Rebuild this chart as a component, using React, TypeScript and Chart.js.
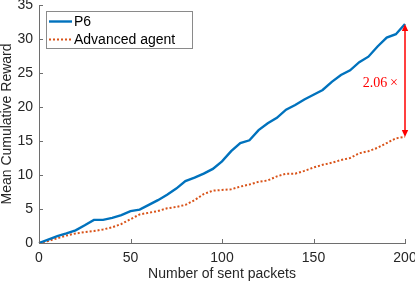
import { useEffect, useRef } from "react";
import { Chart, registerables } from "chart.js";

Chart.register(...registerables);

const packets = [0, 5, 10, 15, 20, 25, 30, 35, 40, 45, 50, 55, 60, 65, 70, 75, 80, 85, 90, 95, 100, 105, 110, 115, 120, 125, 130, 135, 140, 145, 150, 155, 160, 165, 170, 175, 180, 185, 190, 195, 200];
const p6Reward = [0, 0.5, 1.0, 1.4, 1.85, 2.6, 3.4, 3.4, 3.7, 4.1, 4.7, 4.9, 5.6, 6.3, 7.1, 8.0, 9.1, 9.6, 10.2, 10.9, 12.0, 13.5, 14.7, 15.1, 16.6, 17.6, 18.4, 19.6, 20.3, 21.1, 21.8, 22.5, 23.7, 24.7, 25.4, 26.6, 27.4, 28.9, 30.2, 30.7, 32.2];
const advancedReward = [0, 0.3, 0.7, 1.1, 1.4, 1.6, 1.75, 2.0, 2.3, 2.8, 3.5, 4.2, 4.45, 4.7, 5.1, 5.3, 5.6, 6.3, 7.2, 7.7, 7.8, 7.9, 8.3, 8.6, 9.0, 9.2, 9.8, 10.2, 10.2, 10.6, 11.1, 11.5, 11.8, 12.2, 12.5, 13.2, 13.5, 14.0, 14.7, 15.4, 15.6];
const xTicks = [0, 50, 100, 150, 200];
const yTicks = [0, 5, 10, 15, 20, 25, 30, 35];
const seriesNames = ["P6", "Advanced agent"];
const xTitle = "Number of sent packets";
const yTitle = "Mean Cumulative Reward";
const ratioLabel = "2.06\u2009\u00d7";

const BLUE = "#0072BD";
const ORANGE = "#D95319";
const AXIS = "#6e6e6e";
const TEXT = "#262626";
const FONT = "'Liberation Sans', Arial, Helvetica, sans-serif";

const decor = {
  id: "decor",
  afterDraw(chart: any) {
    const { ctx, chartArea, scales } = chart;
    const x = scales.x;
    const y = scales.y;
    ctx.save();
    // inward tick marks
    ctx.strokeStyle = AXIS;
    ctx.lineWidth = 1;
    ctx.beginPath();
    for (const v of xTicks) {
      const px = Math.round(x.getPixelForValue(v)) + 0.5;
      ctx.moveTo(px, chartArea.bottom);
      ctx.lineTo(px, chartArea.bottom - 4);
    }
    for (const v of yTicks) {
      const py = Math.round(y.getPixelForValue(v)) + 0.5;
      ctx.moveTo(chartArea.left, py);
      ctx.lineTo(chartArea.left + 4, py);
    }
    ctx.stroke();

    // ratio arrow
    const last = packets.length - 1;
    const ax = x.getPixelForValue(packets[last]);
    const yTop = y.getPixelForValue(p6Reward[last]);
    const yBot = y.getPixelForValue(advancedReward[last]);
    ctx.strokeStyle = "#FF0000";
    ctx.fillStyle = "#FF0000";
    ctx.lineWidth = 1.5;
    ctx.beginPath();
    ctx.moveTo(ax, yTop + 5);
    ctx.lineTo(ax, yBot - 5);
    ctx.stroke();
    ctx.beginPath();
    ctx.moveTo(ax, yTop);
    ctx.lineTo(ax - 3.2, yTop + 7);
    ctx.lineTo(ax + 3.2, yTop + 7);
    ctx.closePath();
    ctx.fill();
    ctx.beginPath();
    ctx.moveTo(ax, yBot);
    ctx.lineTo(ax - 3.2, yBot - 7);
    ctx.lineTo(ax + 3.2, yBot - 7);
    ctx.closePath();
    ctx.fill();
    ctx.font = "14px 'Liberation Serif', 'Times New Roman', serif";
    ctx.textAlign = "right";
    ctx.textBaseline = "middle";
    ctx.fillText(ratioLabel, ax - 7, (yTop + yBot) / 2 + 3);

    // legend
    const bx = chartArea.left + 7.5;
    const by = chartArea.top + 6.5;
    const bw = 146;
    const bh = 37;
    ctx.fillStyle = "#ffffff";
    ctx.fillRect(bx, by, bw, bh);
    ctx.strokeStyle = "#8a8a8a";
    ctx.lineWidth = 1;
    ctx.strokeRect(bx, by, bw, bh);
    const rows = [by + 10, by + 28];
    const colors = [BLUE, ORANGE];
    seriesNames.forEach((name, i) => {
      ctx.strokeStyle = colors[i];
      ctx.lineWidth = i === 0 ? 2.4 : 2;
      ctx.setLineDash(i === 0 ? [] : [2, 2]);
      ctx.beginPath();
      ctx.moveTo(bx + 2.5, rows[i]);
      ctx.lineTo(bx + 25.5, rows[i]);
      ctx.stroke();
      ctx.setLineDash([]);
      ctx.fillStyle = "#000000";
      ctx.font = `14px ${FONT}`;
      ctx.textAlign = "left";
      ctx.textBaseline = "middle";
      ctx.fillText(name, bx + 27.5, rows[i] + 0.5);
    });
    ctx.restore();
  },
};

export default function App() {
  const ref = useRef<HTMLCanvasElement | null>(null);
  useEffect(() => {
    document.body.style.margin = "0";
    const canvas = ref.current;
    if (!canvas) return;
    const chart = new Chart(canvas, {
      type: "line",
      data: {
        datasets: [
          {
            label: seriesNames[0],
            data: packets.map((p, i) => ({ x: p, y: p6Reward[i] })),
            borderColor: BLUE,
            borderWidth: 2.4,
            pointRadius: 0,
            tension: 0,
            clip: false as any,
          },
          {
            label: seriesNames[1],
            data: packets.map((p, i) => ({ x: p, y: advancedReward[i] })),
            borderColor: ORANGE,
            borderWidth: 2,
            borderDash: [2, 2],
            pointRadius: 0,
            tension: 0,
            clip: false as any,
          },
        ],
      },
      options: {
        animation: false,
        responsive: false,
        devicePixelRatio: 1,
        layout: { padding: { left: 0, top: 5, right: 10, bottom: 0 } },
        plugins: { legend: { display: false }, tooltip: { enabled: false } },
        scales: {
          x: {
            type: "linear",
            min: 0,
            max: 200,
            grid: { display: false, drawTicks: false },
            border: { display: true, color: AXIS, width: 1 },
            afterBuildTicks: (s: any) => {
              s.ticks = xTicks.map((v) => ({ value: v }));
            },
            afterFit: (s: any) => {
              s.height = 41;
              s.paddingLeft = 0;
              s.paddingRight = 0;
            },
            ticks: {
              color: TEXT,
              padding: 7,
              maxRotation: 0,
              autoSkip: false,
              font: { family: FONT, size: 14 },
            },
            title: {
              display: true,
              text: xTitle,
              color: TEXT,
              font: { family: FONT, size: 14, lineHeight: 1.2 },
              padding: { top: 0, bottom: 1 },
            },
          },
          y: {
            type: "linear",
            min: 0,
            max: 35,
            grid: { display: false, drawTicks: false },
            border: { display: true, color: AXIS, width: 1 },
            afterBuildTicks: (s: any) => {
              s.ticks = yTicks.map((v) => ({ value: v }));
            },
            afterFit: (s: any) => {
              s.width = 39;
              s.paddingTop = 0;
              s.paddingBottom = 0;
            },
            ticks: {
              color: TEXT,
              padding: 6,
              autoSkip: false,
              font: { family: FONT, size: 14 },
            },
            title: {
              display: true,
              text: yTitle,
              color: TEXT,
              font: { family: FONT, size: 14, lineHeight: 1 },
              padding: { top: 0, bottom: 0 },
            },
          },
        },
      },
      plugins: [decor],
    });
    return () => chart.destroy();
  }, []);
  return (
    <div style={{ position: "absolute", left: 0, top: 0, width: 415, height: 284 }}>
      <canvas ref={ref} width={415} height={284} />
    </div>
  );
}
